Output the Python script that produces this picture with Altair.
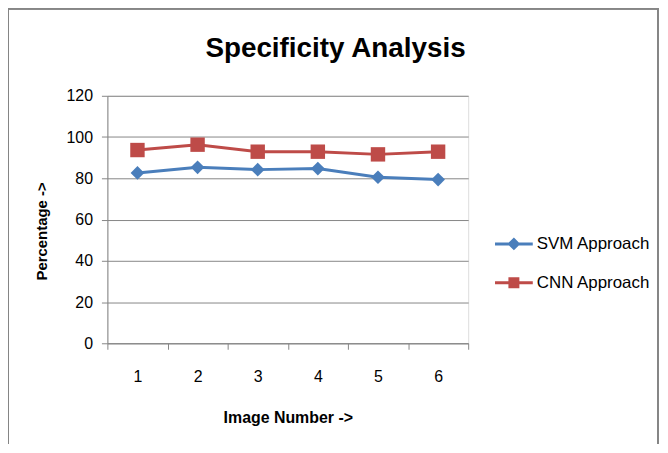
import altair as alt
import pandas as pd

images = ["1", "2", "3", "4", "5", "6"]
svm = [82.6, 85.3, 84.2, 84.7, 80.5, 79.4]
cnn = [93.7, 96.3, 92.9, 92.9, 91.6, 92.9]
series = ["SVM Approach", "CNN Approach"]
colors = ["#4A7EBB", "#BE4B48"]
y_ticks = [0, 20, 40, 60, 80, 100, 120]

rows = []
for i, img in enumerate(images):
    rows.append({"image": img, "value": svm[i], "series": series[0]})
    rows.append({"image": img, "value": cnn[i], "series": series[1]})
df = pd.DataFrame(rows)

FONT = "Liberation Sans"
GREY = "#868686"

x_enc = alt.X(
    "image:O",
    sort=images,
    bandPosition=0.5,
    scale=alt.Scale(type="band", paddingInner=0, paddingOuter=0),
    axis=alt.Axis(
        title="Image Number ->",
        labelAngle=0,
        tickBand="extent",
        tickSize=6,
        tickColor=GREY,
        domainColor=GREY,
        grid=False,
        labelFont=FONT,
        labelFontSize=16,
        labelColor="#000000",
        labelPadding=19,
        titleFont=FONT,
        titleFontSize=16,
        titleFontWeight="bold",
        titleColor="#000000",
        titleY=75,
        titleBaseline="middle",
    ),
)
y_enc = alt.Y(
    "value:Q",
    scale=alt.Scale(domain=[0, 120]),
    axis=alt.Axis(
        title="Percentage ->",
        values=y_ticks,
        tickSize=6,
        tickColor=GREY,
        domainColor=GREY,
        grid=True,
        gridColor=GREY,
        labelFont=FONT,
        labelFontSize=16,
        labelColor="#000000",
        labelPadding=9,
        titleFont=FONT,
        titleFontSize=15,
        titleFontWeight="bold",
        titleColor="#000000",
        titleX=-66,
        titleY=136,
        titleBaseline="middle",
    ),
)

base = alt.Chart(df)

svm_line = base.transform_filter(alt.datum.series == series[0]).mark_line(
    color=colors[0], strokeWidth=3
).encode(x=x_enc, y=y_enc)
svm_pts = base.transform_filter(alt.datum.series == series[0]).mark_point(
    shape="diamond", filled=True, opacity=1, size=190, color=colors[0]
).encode(x=x_enc, y=y_enc)
cnn_line = base.transform_filter(alt.datum.series == series[1]).mark_line(
    color=colors[1], strokeWidth=3
).encode(x=x_enc, y=y_enc)
cnn_pts = base.transform_filter(alt.datum.series == series[1]).mark_point(
    shape="square", filled=True, opacity=1, size=210, color=colors[1]
).encode(x=x_enc, y=y_enc)

legend_shapes = [
    "M-1,-0.08H1V0.08H-1Z M0,-0.34L0.34,0L0,0.34L-0.34,0Z",
    "M-1,-0.08H1V0.08H-1Z M-0.29,-0.29H0.29V0.29H-0.29Z",
]
leg = dict(
    title=None,
    orient="none",
    legendX=390,
    legendY=130,
    padding=0,
    symbolSize=1444,
    symbolStrokeWidth=0,
    labelOffset=4,
    rowPadding=12,
    labelFont=FONT,
    labelFontSize=17,
    labelColor="#000000",
)
legend_layer = base.transform_filter(alt.datum.value < 0).mark_point(
    filled=True, opacity=1
).encode(
    x=x_enc,
    y=y_enc,
    color=alt.Color(
        "series:N",
        scale=alt.Scale(domain=series, range=colors),
        legend=alt.Legend(**leg),
    ),
    shape=alt.Shape(
        "series:N",
        scale=alt.Scale(domain=series, range=legend_shapes),
        legend=alt.Legend(**leg),
    ),
)

border_top = alt.Chart(df).mark_rule(color=GREY, strokeWidth=2).encode(
    x=alt.value(-104), x2=alt.value(554), y=alt.value(-88), y2=alt.value(-88)
)
border_left = alt.Chart(df).mark_rule(color=GREY, strokeWidth=2).encode(
    x=alt.value(-100), x2=alt.value(-100), y=alt.value(-89), y2=alt.value(370)
)
border_right = alt.Chart(df).mark_rule(color=GREY, strokeWidth=2).encode(
    x=alt.value(554), x2=alt.value(554), y=alt.value(-89), y2=alt.value(370)
)

chart = alt.layer(
    svm_line, cnn_line, svm_pts, cnn_pts, legend_layer,
    border_top, border_left, border_right,
).properties(
    width=363,
    height=249,
    autosize=alt.AutoSizeParams(type="none"),
    padding={"left": 100, "top": 87, "right": 193, "bottom": 100},
    title=alt.TitleParams(
        "Specificity Analysis",
        font=FONT,
        fontSize=28,
        fontWeight="bold",
        color="#000000",
        anchor="middle",
        dx=48,
        offset=0,
        dy=57,
    ),
).configure_view(stroke=None).configure(background="#ffffff")

chart.save("out.html", embed_options={"renderer": "svg", "actions": False})
